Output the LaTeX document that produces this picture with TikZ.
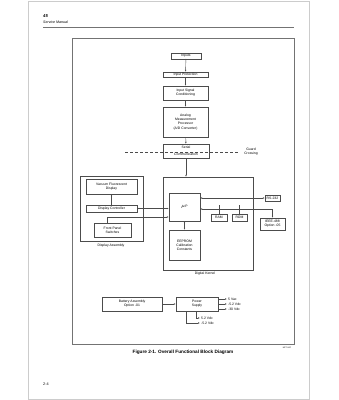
\documentclass[tikz,border=0pt]{standalone}
\usepackage{fontspec}
\setmainfont{Liberation Sans}
\usetikzlibrary{arrows.meta}

\begin{document}
\begin{tikzpicture}[x=1pt, y=-1pt, line width=0.4pt,
	block/.style={rectangle, draw=black!70, align=center, inner sep=0pt, font=\fontsize{3.4}{4.1}\selectfont},
	lbl/.style={inner sep=0pt, font=\fontsize{3.4}{4.1}\selectfont},
	conn/.style={draw=black!70, -{Latex[length=2pt, width=1.6pt]}},
	dconn/.style={draw=black!70, {Latex[length=2pt, width=1.6pt]}-{Latex[length=2pt, width=1.6pt]}}]

	\useasboundingbox (0,0) rectangle (339,400);
	\draw[black!20, line width=0.6pt] (28,1) rectangle (309,399);
	\draw[black!55, line width=0.6pt] (43,27) -- (294,27);
	\draw[black!55] (72,38) rectangle (294,344);

	\node[lbl, anchor=west, font=\fontsize{4.2}{4}\selectfont\bfseries\itshape] (num) at (43,16) {45};
	\node[lbl, anchor=west, font=\fontsize{3.6}{4}\selectfont\itshape] (man) at (43,22.5) {Service Manual};
	\node[lbl, anchor=west, font=\fontsize{3.8}{4}\selectfont] (page) at (43,384) {2-4};

	\node[block, minimum width=30pt, minimum height=6pt] (inputs) at (186,55.7) {Inputs};
	\node[block, minimum width=45pt, minimum height=5pt] (prot) at (185.5,74.5) {Input Protection};
	\node[block, minimum width=45pt, minimum height=14pt] (cond) at (185.5,93) {Input Signal\\Conditioning};
	\node[block, minimum width=45pt, minimum height=30pt] (adc) at (185.5,122) {Analog\\Measurement\\Processor\\(A/D Converter)};
	\node[block, minimum width=46pt, minimum height=14pt] (serial) at (186,151) {Serial\\[3pt]Communication};
	\draw[black!70, line width=0.6pt, dash pattern=on 3pt off 2pt] (125,152) -- (239,152);
	\node[lbl, align=center] (guard) at (251,152) {Guard\\Crossing};

	\node[block, minimum width=90pt, minimum height=93pt] (kernel) at (208,223.5) {};
	\node[lbl] (kernellbl) at (205,274) {Digital Kernel};
	\node[block, minimum width=31pt, minimum height=28pt] (up) at (184.5,207) {$\mu$P};
	\node[block, minimum width=31pt, minimum height=30pt] (eeprom) at (184.5,245) {EEPROM\\Calibration\\Constants};
	\node[block, minimum width=16pt, minimum height=7pt] (ram) at (219,217.5) {RAM};
	\node[block, minimum width=15pt, minimum height=7pt] (rom) at (239.5,217.5) {ROM};
	\node[block, minimum width=15pt, minimum height=6pt] (rs) at (272.5,198) {RS-232};
	\node[block, minimum width=25pt, minimum height=12pt] (ieee) at (272.5,224) {IEEE-488\\Option -05};

	\node[block, minimum width=63pt, minimum height=65pt] (dispasm) at (111.5,208.5) {};
	\node[lbl] (dispasmlbl) at (111,245.5) {Display Assembly};
	\node[block, minimum width=51pt, minimum height=15pt] (vfd) at (111.5,186.5) {Vacuum Fluorescent\\Display};
	\node[block, minimum width=51pt, minimum height=7pt] (dctrl) at (111.5,208.5) {Display Controller};
	\node[block, minimum width=37pt, minimum height=14pt] (fps) at (112.5,230) {Front Panel\\Switches};

	\node[block, minimum width=60pt, minimum height=14pt] (battery) at (132,304) {Battery Assembly\\Option -01};
	\node[block, minimum width=42pt, minimum height=14pt] (psu) at (197,304) {Power\\Supply};
	\coordinate (o1) at (227,299);
	\coordinate (o2) at (227,304);
	\coordinate (o3) at (227,309);
	\coordinate (o4) at (200,318);
	\coordinate (o5) at (200,323);
	\node[lbl, anchor=west] (v1) at (228,299) {5 Vac};
	\node[lbl, anchor=west] (v2) at (228,304) {-5.2 Vdc};
	\node[lbl, anchor=west] (v3) at (228,309) {-30 Vdc};
	\node[lbl, anchor=west] (v4) at (201,318) {5.2 Vdc};
	\node[lbl, anchor=west] (v5) at (201,323) {-5.2 Vdc};

	\node[lbl, font=\fontsize{4.7}{5}\selectfont\bfseries] (caption) at (183,352) {Figure 2-1. Overall Functional Block Diagram};
	\node[lbl, font=\fontsize{2}{2}\selectfont] (art) at (287,347.5) {MF7-04F};

	\draw[conn] (inputs) -- (prot);
	\draw[conn] (prot) -- (cond);
	\draw[conn] (cond) -- (adc);
	\draw[conn] (adc) -- (serial);
	\draw[conn] (serial) -- (serial.south |- kernel.north);
	\draw[dconn] (up) -- (eeprom);
	\draw[dconn] (rs.west) -- (rs.west -| up.east);
	\draw[dconn] ([yshift=-2pt]up.east) -| (ieee.north);
	\draw[black!70] (ram.north) -- ++(0,-8.5);
	\draw[black!70] (rom.north) -- ++(0,-8.5);
	\draw[conn] (dctrl) -- (vfd);
	\draw[dconn] (dctrl.east) -- (dctrl.east -| up.west);
	\draw[conn] ([xshift=-5.5pt]fps.north) |- ([yshift=-10pt]up.west);

	\draw[conn] (battery) -- (psu);
	\draw[conn] (psu.east |- o1) -- (o1);
	\draw[conn] (psu.east |- o2) -- (o2);
	\draw[conn] (psu.east |- o3) -- (o3);
	\draw[conn] ([xshift=-1pt]psu.south) |- (o4);
	\draw[conn] ([xshift=-11pt]psu.south) |- (o5);
\end{tikzpicture}
\end{document}
